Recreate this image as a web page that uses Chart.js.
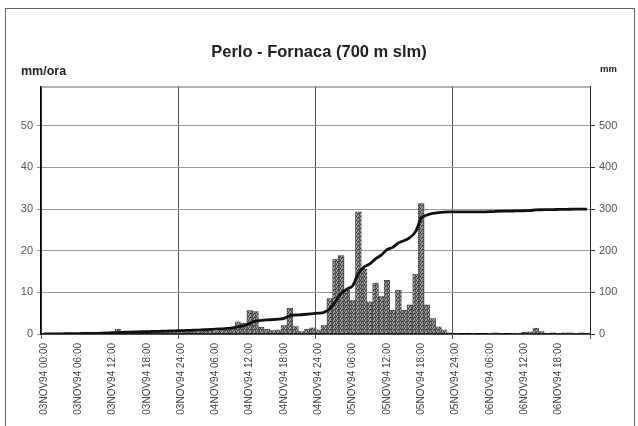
<!DOCTYPE html>
<html lang="it">
<head>
    <meta charset="UTF-8">
    <title>Perlo - Fornaca (700 m slm)</title>
    <script src="https://cdn.jsdelivr.net/npm/chart.js"></script>
    <style>
        body { margin: 0; background: #fff; }
        #chartCanvas { display: block; }
    </style>
</head>
<body>
    <canvas id="chartCanvas" width="638" height="426"></canvas>

    <script>
        // tick labels, one every 6 hours
        const tickLabels = [
            '03NOV94 00:00', '03NOV94 06:00', '03NOV94 12:00', '03NOV94 18:00',
            '03NOV94 24:00', '04NOV94 06:00', '04NOV94 12:00', '04NOV94 18:00',
            '04NOV94 24:00', '05NOV94 06:00', '05NOV94 12:00', '05NOV94 18:00',
            '05NOV94 24:00', '06NOV94 06:00', '06NOV94 12:00', '06NOV94 18:00'
        ];
        const leftTicks = [0, 10, 20, 30, 40, 50];
        const rightTicks = [0, 100, 200, 300, 400, 500];

        // hourly rain (mm/ora), 96 hours from 03NOV94 00:00
        const rainHourly = [
            0, 0.1, 0.2, 0.2, 0.3, 0.2, 0.2, 0.3, 0.2, 0.3,
            0.3, 0.5, 0.6, 1.2, 0.6, 0.5, 0.5, 0.6, 0.5, 0.5,
            0.4, 0.5, 0.6, 0.5, 0.5, 0.4, 0.6, 0.5, 0.7, 0.8,
            0.6, 0.8, 0.9, 1.2, 2.9, 2.6, 5.6, 5.4, 1.6, 1.2,
            0.8, 1.0, 2.0, 6.2, 1.8, 0.6, 1.2, 1.5,
            1.0, 2.0, 8.5, 18.0, 18.8, 10.5, 8.0, 29.3, 15.5, 7.7,
            12.2, 9.0, 12.9, 5.7, 10.5, 5.7, 7.0, 14.4, 31.3, 7.0,
            3.7, 1.7, 1.0, 0.3,
            0.1, 0, 0, 0.1, 0, 0, 0.2, 0.3, 0.1, 0, 0.2, 0.1,
            0.4, 0.5, 1.4, 0.6, 0.1, 0.3, 0.1, 0.3, 0.3, 0.2, 0.3, 0.2
        ];

        // cumulated rain (mm)
        const rainCumulative = [
            0, 0, 0.2, 0.4, 0.6, 0.8, 1.0, 1.2, 1.4, 1.6,
            1.8, 2.2, 2.7, 3.7, 4.2, 4.6, 5.0, 5.4, 5.8, 6.2,
            6.5, 6.9, 7.3, 7.7, 8.1, 8.5, 9.0, 9.5, 10.2, 11.0,
            11.6, 12.4, 13.3, 14.5, 17.4, 20.0, 25.6, 31.0, 32.6, 33.8,
            34.6, 35.6, 37.6, 43.8, 45.6, 46.2, 47.4, 48.9,
            49.9, 51.9, 60.4, 78.4, 97.2, 107.7, 115.7, 145.0, 160.5, 168.2,
            180.4, 189.4, 202.3, 208.0, 218.5, 224.2, 231.2, 245.6, 278.0, 285.5,
            289.5, 291.5, 292.6, 293.0,
            293.0, 293.0, 293.1, 293.2, 293.2, 293.3, 293.5, 294.2, 294.8, 295.0, 295.2, 295.5,
            295.8, 296.3, 297.7, 298.2, 298.4, 298.7, 298.9, 299.1, 299.4, 299.6, 299.8, 299.8
        ];

        const categories = rainHourly.map((v, i) => i % 6 === 0 ? tickLabels[i / 6] : '');

        // speckled grey fill like the printed bars
        function makePattern() {
            const c = document.createElement('canvas');
            c.width = 4; c.height = 4;
            const g = c.getContext('2d');
            g.fillStyle = '#7a7a7a';
            g.fillRect(0, 0, 4, 4);
            g.fillStyle = '#383838';
            [[0, 0], [2, 1], [1, 2], [3, 3], [3, 1]].forEach(p => g.fillRect(p[0], p[1], 1, 1));
            g.fillStyle = '#b0b0b0';
            [[2, 3], [0, 2], [1, 0]].forEach(p => g.fillRect(p[0], p[1], 1, 1));
            return g.createPattern(c, 'repeat');
        }

        const FONT = "'Liberation Sans', Arial, sans-serif";

        const extras = {
            id: 'extras',
            beforeDraw(chart) {
                const ctx = chart.ctx;
                ctx.save();
                ctx.fillStyle = '#fff';
                ctx.fillRect(0, 0, chart.width, chart.height);
                ctx.strokeStyle = '#666';
                ctx.lineWidth = 1;
                ctx.strokeRect(5.5, 8.5, 629, 430);
                ctx.restore();
            },
            afterDraw(chart) {
                const ctx = chart.ctx;
                const a = chart.chartArea;
                ctx.save();
                ctx.strokeStyle = '#666';
                ctx.lineWidth = 1;
                ctx.beginPath();
                ctx.moveTo(a.left, a.top + 0.5);
                ctx.lineTo(a.right, a.top + 0.5);
                ctx.stroke();
                ctx.fillStyle = '#222';
                ctx.textBaseline = 'middle';
                ctx.font = 'bold 12.5px ' + FONT;
                ctx.fillText('mm/ora', 21, 72);
                ctx.font = 'bold 9.5px ' + FONT;
                ctx.fillText('mm', 600, 69);
                ctx.restore();
            }
        };

        const ctx = document.getElementById('chartCanvas').getContext('2d');
        new Chart(ctx, {
            data: {
                labels: categories,
                datasets: [
                    {
                        type: 'line',
                        label: 'mm',
                        data: rainCumulative,
                        yAxisID: 'y1',
                        borderColor: '#111',
                        borderWidth: 2.8,
                        pointRadius: 0,
                        cubicInterpolationMode: 'monotone',
                        order: 0
                    },
                    {
                        type: 'bar',
                        label: 'mm/ora',
                        data: rainHourly,
                        yAxisID: 'y',
                        backgroundColor: makePattern(),
                        borderColor: '#333',
                        borderWidth: 0.5,
                        barPercentage: 1,
                        categoryPercentage: 1,
                        order: 1
                    }
                ]
            },
            options: {
                responsive: false,
                animation: false,
                devicePixelRatio: 1,
                layout: { padding: 0 },
                plugins: {
                    legend: { display: false },
                    tooltip: { enabled: false },
                    title: {
                        display: true,
                        text: 'Perlo - Fornaca (700 m slm)',
                        color: '#222',
                        font: { family: FONT, size: 16.5, weight: 'bold' },
                        padding: { top: 43, bottom: 23.7 }
                    }
                },
                scales: {
                    x: {
                        offset: true,
                        afterFit: s => { s.height = 92; },
                        grid: {
                            offset: true,
                            color: c => (c.index === undefined || c.index % 24 === 0) ? '#555' : 'rgba(0,0,0,0)',
                            tickLength: 5
                        },
                        border: { color: '#000', width: 1.5 },
                        ticks: {
                            autoSkip: false,
                            maxRotation: 90,
                            minRotation: 90,
                            padding: 4,
                            color: '#444',
                            font: { family: FONT, size: 10 }
                        }
                    },
                    y: {
                        position: 'left',
                        min: 0,
                        max: 59.4,
                        afterFit: s => { s.width = 41; },
                        afterBuildTicks: s => { s.ticks = leftTicks.map(v => ({ value: v })); },
                        grid: { color: '#999', tickLength: 4 },
                        border: { color: '#000', width: 1.5 },
                        ticks: {
                            padding: 4,
                            color: '#555',
                            font: { family: FONT, size: 11 }
                        }
                    },
                    y1: {
                        position: 'right',
                        min: 0,
                        max: 594,
                        afterFit: s => { s.width = 48; },
                        afterBuildTicks: s => { s.ticks = rightTicks.map(v => ({ value: v })); },
                        grid: { drawOnChartArea: false, color: '#333', tickLength: 5 },
                        border: { color: '#222', width: 1 },
                        ticks: {
                            padding: 4,
                            color: '#555',
                            font: { family: FONT, size: 11 }
                        }
                    }
                }
            },
            plugins: [extras]
        });
    </script>
</body>
</html>
